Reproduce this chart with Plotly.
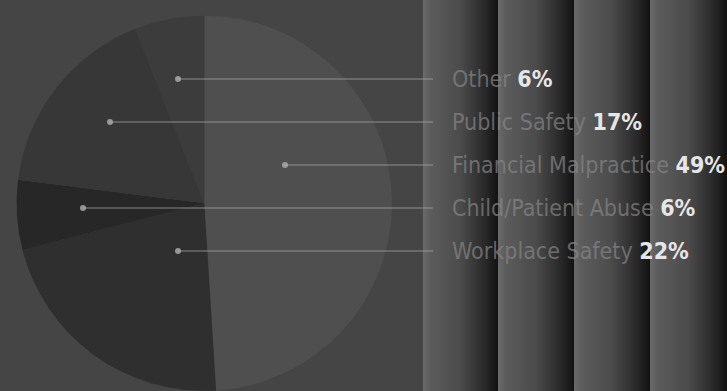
import plotly.graph_objects as go

# ---- data ----
categories = ["Financial Malpractice", "Workplace Safety", "Child/Patient Abuse", "Public Safety", "Other"]
shares = [49, 22, 6, 17, 6]
label_order = ["Other", "Public Safety", "Financial Malpractice", "Child/Patient Abuse", "Workplace Safety"]

# ---- styling ----
W, H = 727, 391
bg = "#454545"
slice_colors = {
    "Financial Malpractice": "#4f4f4f",
    "Workplace Safety": "#2f2f2f",
    "Child/Patient Abuse": "#272727",
    "Public Safety": "#373737",
    "Other": "#3c3c3c",
}
row_y0, row_step = 79, 43          # label rows (px)
dot_x = {"Other": 178, "Public Safety": 110, "Financial Malpractice": 285,
         "Child/Patient Abuse": 83, "Workplace Safety": 178}
line_end_x = 433
text_x = 450
stripe_edges = [423, 498, 574, 650, 727]

fig = go.Figure()

# background stripes (decoration)
for a, b in zip(stripe_edges[:-1], stripe_edges[1:]):
    fig.add_trace(go.Scatter(
        x=[a, b, b, a, a], y=[0, 0, H, H, 0], mode="lines", fill="toself",
        line=dict(width=0),
        fillgradient=dict(type="horizontal",
                          colorscale=[[0, "#6a6a6a"], [0.1, "#5c5c5c"], [0.5, "#4b4b4b"],
                                      [0.85, "#262626"], [1, "#121212"]]),
        hoverinfo="skip", showlegend=False))

fig.add_trace(go.Pie(
    labels=categories, values=shares, sort=False, direction="clockwise", rotation=0,
    marker=dict(colors=[slice_colors[c] for c in categories], line=dict(width=0)),
    textinfo="none", hoverinfo="skip", showlegend=False,
    domain=dict(x=[0.0, 0.562], y=[0.0, 0.96]),
))

shapes, annotations = [], []
for i, name in enumerate(label_order):
    y = row_y0 + i * row_step
    pct = shares[categories.index(name)]
    shapes.append(dict(type="line", xref="x", yref="y", x0=dot_x[name], x1=line_end_x, y0=y, y1=y,
                       line=dict(color="rgba(170,170,170,0.75)", width=1), layer="above"))
    shapes.append(dict(type="circle", xref="x", yref="y", x0=dot_x[name] - 3, x1=dot_x[name] + 3,
                       y0=y - 3, y1=y + 3, fillcolor="rgba(175,175,175,0.8)", line=dict(width=0),
                       layer="above"))
    annotations.append(dict(
        x=text_x, y=y, xref="x", yref="y", xanchor="left", yanchor="middle", showarrow=False,
        text=f"<span style='color:rgba(135,135,135,0.7)'>{name}</span> <b>{pct}%</b>",
        font=dict(family="DejaVu Sans Condensed, Liberation Sans Narrow, Roboto, sans-serif", size=23,
                  color="#e6e6e6")))

fig.update_layout(
    width=W, height=H, margin=dict(l=0, r=0, t=0, b=0),
    paper_bgcolor=bg, plot_bgcolor=bg,
    xaxis=dict(range=[0, W], visible=False, fixedrange=True),
    yaxis=dict(range=[H, 0], visible=False, fixedrange=True),
    shapes=shapes, annotations=annotations,
)
fig.write_html("out.html")
